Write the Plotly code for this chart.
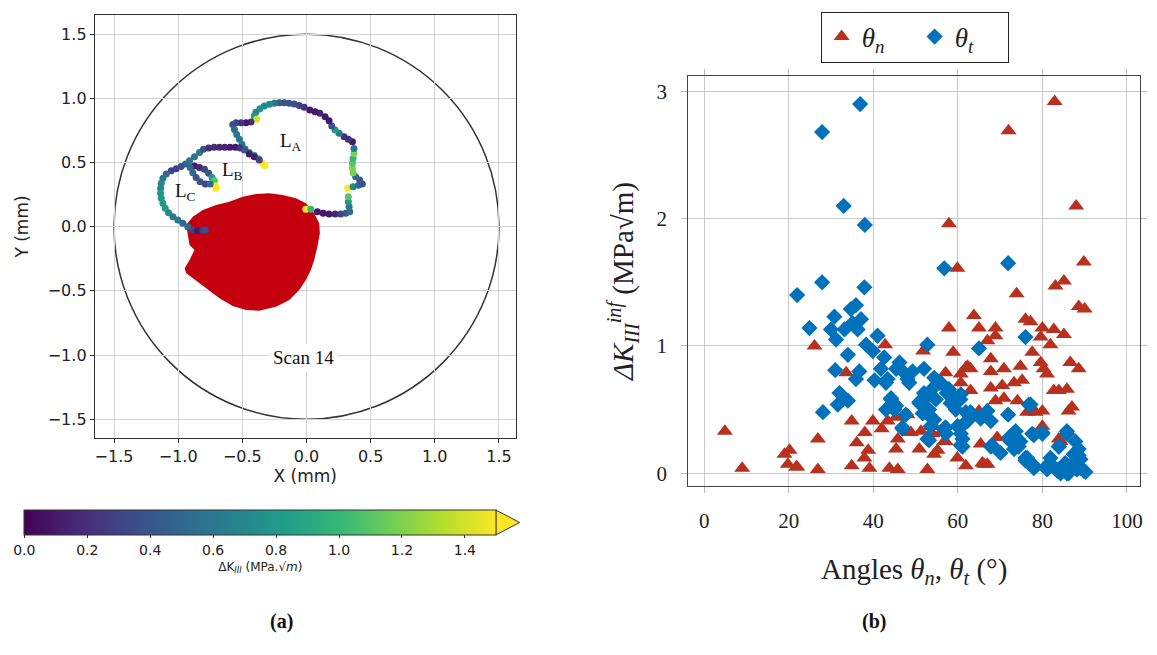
import plotly.graph_objects as go

# crack front, scan 14 (mm) and Delta K_III colour value
LA_X = [-0.005, 0.034, 0.085, 0.130, 0.176, 0.223, 0.267, 0.306, 0.337, 0.332, 0.326, 0.326, 0.321,
        0.363, 0.404, 0.435, 0.415, 0.383, 0.363, 0.358, 0.358, 0.363, 0.370, 0.370, 0.358, 0.326,
        0.293, 0.254, 0.223, 0.197, 0.176, 0.145, 0.104, 0.067, 0.026, -0.018, -0.057, -0.096,
        -0.135, -0.174, -0.212, -0.251, -0.290, -0.329, -0.363, -0.394, -0.407, -0.389, -0.433,
        -0.472, -0.510, -0.549, -0.575, -0.562, -0.544, -0.523, -0.503, -0.479, -0.446, -0.407,
        -0.373, -0.342, -0.324]
LA_Y = [0.135, 0.135, 0.117, 0.104, 0.099, 0.099, 0.099, 0.104, 0.117, 0.156, 0.195, 0.234, 0.299,
        0.312, 0.322, 0.332, 0.364, 0.390, 0.421, 0.455, 0.494, 0.532, 0.571, 0.610, 0.662, 0.681,
        0.701, 0.727, 0.753, 0.784, 0.826, 0.857, 0.883, 0.896, 0.909, 0.930, 0.945, 0.956,
        0.961, 0.966, 0.966, 0.961, 0.953, 0.940, 0.919, 0.891, 0.862, 0.836, 0.816,
        0.810, 0.810, 0.810, 0.797, 0.758, 0.719, 0.681, 0.642, 0.605, 0.577, 0.556,
        0.530, 0.494, 0.475]
LA_K = [1.5, 1.0, 0.1, 0.1, 0.1, 0.15, 0.3, 0.4, 0.5, 0.6, 0.8, 1.1, 1.5,
        0.7, 0.5, 0.4, 0.4, 0.5, 1.2, 1.2, 1.1, 1.0, 1.2, 0.6, 0.1, 0.2,
        0.2, 0.6, 0.8, 0.4, 0.1, 0.1, 0.15, 0.1, 0.1, 0.2, 0.3, 0.35,
        0.4, 0.4, 0.4, 0.6, 0.7, 0.7, 0.8, 0.7, 0.8, 1.4, 0.2,
        0.1, 0.2, 0.3, 0.35, 0.5, 0.6, 0.6, 0.6, 0.6, 0.7, 0.9,
        1.0, 1.5, 1.5]

LB_X = [-0.943, -0.912, -0.873, -0.834, -0.803, -0.762, -0.720, -0.679, -0.637, -0.596, -0.554,
        -0.518, -0.484, -0.446, -0.407, -0.368,
        -0.873, -0.834, -0.795, -0.762, -0.736, -0.718, -0.710, -0.705,
        -0.907, -0.886, -0.860, -0.829, -0.788, -0.751]
LB_Y = [0.488, 0.514, 0.545, 0.577, 0.603, 0.613, 0.618, 0.618, 0.618, 0.618, 0.618,
        0.613, 0.597, 0.566, 0.545, 0.519,
        0.473, 0.462, 0.447, 0.416, 0.384, 0.358, 0.317, 0.299,
        0.462, 0.421, 0.384, 0.351, 0.332, 0.332]
LB_K = [0.5, 0.6, 0.6, 0.6, 0.4, 0.2, 0.2, 0.15, 0.15, 0.1, 0.1,
        0.2, 0.4, 0.1, 0.1, 0.3,
        0.1, 0.15, 0.3, 0.4, 0.8, 1.1, 1.5, 1.5,
        0.5, 0.5, 0.4, 0.4, 0.3, 0.5]

LC_X = [-0.977, -1.016, -1.054, -1.093, -1.119, -1.132, -1.137, -1.137, -1.132, -1.119, -1.101,
        -1.075, -1.041, -1.003, -0.964, -0.925, -0.886, -0.847, -0.808, -0.788]
LC_Y = [0.468, 0.452, 0.436, 0.410, 0.377, 0.338, 0.299, 0.260, 0.221, 0.182, 0.143,
        0.109, 0.078, 0.052, 0.026, 0.000, -0.026, -0.031, -0.029, -0.026]
LC_K = [0.4, 0.3, 0.3, 0.5, 0.6, 0.7, 0.7, 0.8, 0.8, 0.8, 0.8,
        0.7, 0.6, 0.6, 0.5, 0.5, 0.3, 0.1, 0.3, 0.35]

# initiation zone outline (mm)
ZONE_X = [-0.937, -0.886, -0.808, -0.704, -0.601, -0.497, -0.393, -0.290, -0.186, -0.082, -0.005,
          0.060, 0.099, 0.104, 0.085, 0.060, 0.034, -0.005, -0.057, -0.134, -0.238, -0.368,
          -0.471, -0.575, -0.678, -0.782, -0.859, -0.937, -0.950, -0.911, -0.873, -0.911, -0.925]
ZONE_Y = [0.013, 0.078, 0.130, 0.169, 0.195, 0.234, 0.255, 0.260, 0.247, 0.221, 0.182,
          0.104, 0.026, -0.051, -0.156, -0.259, -0.337, -0.415, -0.493, -0.571, -0.623, -0.654,
          -0.649, -0.618, -0.558, -0.480, -0.415, -0.363, -0.324, -0.259, -0.181, -0.143, -0.065]

SPECIMEN_RADIUS = 1.5

# Delta K_III^inf versus angles
THETA_N = [82.9, 72.0, 88.0, 57.9, 59.9, 89.8, 85.1, 83.1, 73.9, 88.6, 90.0,
           26.1, 42.8, 51.8, 33.6, 63.8, 57.9, 65.0, 68.9, 76.0, 77.2, 68.9, 67.0, 80.0, 82.7, 85.1,
           79.6, 81.9, 58.9, 67.8, 77.6, 79.6, 80.3, 81.1, 74.8, 61.9, 63.0, 60.7, 70.9, 67.8, 86.6,
           88.6, 57.1,
           67.8, 70.5, 73.3, 75.2, 63.0, 60.7, 68.9, 70.9, 74.1, 65.0, 76.4, 80.0, 82.7, 83.9, 85.8,
           86.2, 87.0, 80.0, 83.9, 69.3, 65.4, 55.2, 57.1, 59.9, 61.9, 65.8, 67.0, 56.0, 54.4, 78.4,
           54.0, 56.8, 66.2, 84.3, 62.3,
           4.9, 9.0, 19.0, 20.2, 21.8, 19.8, 22.0, 26.9, 26.9, 34.9, 39.9, 38.0, 42.0, 36.1, 38.8,
           37.9, 34.9, 39.1, 43.8, 45.8, 45.8, 45.4, 48.9, 51.3, 50.9, 52.8, 53.6, 54.4, 43.4, 45.4,
           48.1]
DK_N = [2.92, 2.69, 2.10, 1.96, 1.61, 1.66, 1.51, 1.47, 1.41, 1.31, 1.29,
        1.00, 1.01, 0.96, 0.79, 1.24, 1.14, 1.14, 1.14, 1.21, 1.19, 1.08, 1.04, 1.14, 1.13, 1.09,
        1.07, 1.01, 0.95, 0.90, 0.95, 0.87, 0.82, 0.78, 0.84, 0.83, 0.82, 0.78, 0.82, 0.80, 0.87,
        0.82, 0.79,
        0.67, 0.69, 0.71, 0.73, 0.65, 0.71, 0.57, 0.59, 0.57, 0.49, 0.48, 0.49, 0.65, 0.65, 0.66,
        0.49, 0.52, 0.37, 0.27, 0.28, 0.23, 0.18, 0.25, 0.12, 0.06, 0.08, 0.07, 0.32, 0.37, 0.48,
        0.31, 0.25, 0.07, 0.25, 0.84,
        0.33, 0.04, 0.15, 0.18, 0.05, 0.07, 0.05, 0.27, 0.03, 0.41, 0.41, 0.32, 0.35, 0.24, 0.18,
        0.12, 0.06, 0.04, 0.04, 0.03, 0.27, 0.19, 0.32, 0.33, 0.19, 0.03, 0.37, 0.15, 0.41, 0.44,
        0.46]

THETA_T = [36.9, 27.9, 33.0, 38.0, 56.8, 71.9,
           22.0, 27.9, 37.9, 24.9, 30.8, 30.0, 31.2, 33.2, 34.7, 35.9, 35.1, 37.1, 36.3, 34.0, 31.0,
           36.7, 38.3, 41.0, 39.9, 42.6, 41.8, 43.4, 46.2, 45.4, 47.3, 49.3, 52.0, 52.8, 48.1, 54.4,
           65.0, 76.0,
           32.0, 34.0, 31.6, 28.1, 35.9, 40.3, 43.0, 44.2, 43.0, 45.4, 47.7, 46.9, 48.5, 52.0, 50.9,
           53.2, 53.6, 52.8,
           55.6, 57.9, 60.7, 54.8, 59.5, 61.9, 63.0, 57.1, 60.3, 61.1, 61.1, 62.3, 65.8, 67.0, 67.8,
           71.9, 76.8, 67.8, 70.1, 72.1, 73.7, 74.8, 73.3, 76.0, 78.0, 77.6, 80.0, 85.8, 83.9, 87.8,
           81.9, 81.1, 83.5, 85.8, 87.8, 89.0, 89.8, 87.4, 88.6, 85.4,
           57.4, 59.1, 60.6, 56.0, 53.6, 52.0, 54.4, 56.8, 60.7, 60.7, 63.1, 65.4, 68.1, 72.5, 74.4,
           76.0, 78.0, 78.0, 81.1, 84.3, 86.2, 87.8, 88.6, 89.0, 90.2, 88.2, 85.1, 82.7, 46.9, 53.6,
           53.2, 57.2, 58.3, 59.9, 61.5, 72.5, 76.4, 44.2, 45.0, 50.9, 51.7, 77.2, 80.0, 83.9, 85.8]
DK_T = [2.90, 2.68, 2.10, 1.95, 1.61, 1.65,
        1.40, 1.50, 1.46, 1.14, 1.23, 1.13, 1.05, 1.13, 1.29, 1.32, 1.18, 1.21, 1.13, 0.93, 0.81,
        0.80, 1.01, 1.08, 0.96, 0.91, 0.82, 0.74, 0.87, 0.82, 0.79, 0.80, 0.82, 1.01, 0.74, 0.75,
        0.98, 1.07,
        0.63, 0.57, 0.54, 0.48, 0.74, 0.73, 0.71, 0.59, 0.50, 0.53, 0.46, 0.36, 0.71, 0.63, 0.56,
        0.50, 0.44, 0.27,
        0.71, 0.66, 0.62, 0.58, 0.50, 0.48, 0.48, 0.36, 0.36, 0.27, 0.21, 0.41, 0.45, 0.49, 0.41,
        0.46, 0.54, 0.21, 0.16, 0.28, 0.33, 0.25, 0.19, 0.12, 0.06, 0.31, 0.32, 0.33, 0.21, 0.25,
        0.12, 0.06, 0.02, 0.00, 0.04, 0.11, 0.02, 0.15, 0.19, 0.08,
        0.63, 0.60, 0.58, 0.71, 0.65, 0.58, 0.42, 0.35, 0.31, 0.22, 0.46, 0.43, 0.22, 0.29, 0.21,
        0.10, 0.30, 0.04, 0.03, 0.00, 0.00, 0.10, 0.14, 0.04, 0.01, 0.03, 0.04, 0.05, 0.35, 0.37,
        0.26, 0.31, 0.55, 0.37, 0.39, 0.25, 0.12, 0.58, 0.50, 0.55, 0.47, 0.54, 0.31, 0.21, 0.31]

# the page body adds an 8px margin; the figure is sized to fit inside the window
OFF = 8
W, H = 1157 - OFF, 655 - OFF


def px(x):
    return (x - OFF) / W


def py(y):
    return 1 - (y - OFF) / H


SANS = "DejaVu Sans"
SERIF = "Liberation Serif"
RED = "#b8311f"
BLUE = "#0071bb"

fig = go.Figure()

# ---- (a) crack front map
fig.add_trace(go.Scatter(x=ZONE_X, y=ZONE_Y, fill="toself", mode="lines",
                         line=dict(width=0, color="#c4000e"), fillcolor="#c4000e",
                         hoverinfo="skip", showlegend=False, xaxis="x", yaxis="y"))

cbar = dict(orientation="h", lenmode="pixels", len=472, thickness=25,
            x=px(261), xanchor="center", y=py(510), yanchor="top", xpad=0, ypad=0,
            tickvals=[0, 0.2, 0.4, 0.6, 0.8, 1.0, 1.2, 1.4], tickformat=".1f",
            ticks="outside", ticklen=3, tickcolor="#333",
            tickfont=dict(family=SANS, size=14, color="#222"),
            outlinewidth=1, outlinecolor="#333",
            title=dict(text="ΔK<sub><i>III</i></sub> (MPa.√<i>m</i>)", side="bottom",
                       font=dict(family=SANS, size=12, color="#222")))

first = True
for xs, ys, ks in [(LA_X, LA_Y, LA_K), (LB_X, LB_Y, LB_K), (LC_X, LC_Y, LC_K)]:
    fig.add_trace(go.Scatter(
        x=xs, y=ys, mode="markers", showlegend=False, xaxis="x", yaxis="y",
        marker=dict(size=7, color=ks, colorscale="Viridis", cmin=0, cmax=1.5,
                    showscale=first, colorbar=cbar if first else None, line=dict(width=0))))
    first = False

# ---- (b) scatter
fig.add_trace(go.Scatter(x=THETA_N, y=DK_N, mode="markers", name="<i>θ</i><sub><i>n</i></sub>",
                         marker=dict(symbol="triangle-up", size=14, color=RED, line=dict(width=0)),
                         xaxis="x2", yaxis="y2"))
fig.add_trace(go.Scatter(x=THETA_T, y=DK_T, mode="markers", name="<i>θ</i><sub><i>t</i></sub>",
                         marker=dict(symbol="diamond", size=12.5, color=BLUE, line=dict(width=0)),
                         xaxis="x2", yaxis="y2"))

grid_a = "#d4d4d4"
fig.update_layout(
    width=W, height=H, margin=dict(l=0, r=0, t=0, b=0),
    paper_bgcolor="white", plot_bgcolor="white",
    xaxis=dict(domain=[px(95), px(517)], range=[-1.65, 1.63],
               tickvals=[-1.5, -1.0, -0.5, 0, 0.5, 1.0, 1.5], tickformat=".1f",
               showgrid=True, gridcolor=grid_a, zeroline=False,
               showline=True, mirror=True, linecolor="#333", linewidth=1,
               ticks="outside", ticklen=4, tickcolor="#333",
               tickfont=dict(family=SANS, size=16, color="#222"),
               title=dict(text="X (mm)", standoff=4, font=dict(family=SANS, size=17, color="#222"))),
    yaxis=dict(domain=[py(438), py(15)], range=[-1.646, 1.649],
               tickvals=[-1.5, -1.0, -0.5, 0, 0.5, 1.0, 1.5], tickformat=".1f",
               showgrid=True, gridcolor=grid_a, zeroline=False,
               showline=True, mirror=True, linecolor="#333", linewidth=1,
               ticks="outside", ticklen=4, tickcolor="#333",
               tickfont=dict(family=SANS, size=16, color="#222"),
               title=dict(text="Y (mm)", standoff=14, font=dict(family=SANS, size=17, color="#222"))),
    xaxis2=dict(domain=[px(690), px(1143)], range=[-3.77, 103.1],
                tickvals=[0, 20, 40, 60, 80, 100],
                showgrid=True, gridcolor="#c9c9c9", zeroline=False,
                showline=True, mirror="allticks", linecolor="#444", linewidth=1,
                ticks="outside", ticklen=6, tickcolor="#bbbbbb", ticklabelstandoff=10,
                tickfont=dict(family=SERIF, size=21, color="#222"),
                title=dict(text="Angles <i>θ</i><sub><i>n</i></sub>, <i>θ</i><sub><i>t</i></sub> (°)",
                           standoff=26, font=dict(family=SERIF, size=29, color="#222")),
                anchor="y2"),
    yaxis2=dict(domain=[py(486), py(76)], range=[-0.10, 3.12],
                tickvals=[0, 1, 2, 3],
                showgrid=True, gridcolor="#c9c9c9", zeroline=False,
                showline=True, mirror="allticks", linecolor="#444", linewidth=1,
                ticks="outside", ticklen=6, tickcolor="#bbbbbb", ticklabelstandoff=10,
                tickfont=dict(family=SERIF, size=21, color="#222"),
                title=dict(text="<i>ΔK</i><sub><i>III</i></sub><sup><i>inf</i></sup> (MPa√m)",
                           standoff=14, font=dict(family=SERIF, size=29, color="#222")),
                anchor="x2"),
    legend=dict(orientation="h", x=px(917), xanchor="center", y=py(37), yanchor="middle",
                bordercolor="#222", borderwidth=1, bgcolor="white",
                font=dict(family=SERIF, size=27, color="#222"),
                entrywidth=48, entrywidthmode="pixels", tracegroupgap=0),
    showlegend=True,
)

fig.add_shape(type="circle", xref="x", yref="y", x0=-SPECIMEN_RADIUS, y0=-SPECIMEN_RADIUS,
              x1=SPECIMEN_RADIUS, y1=SPECIMEN_RADIUS, line=dict(color="#333", width=1.5),
              layer="below")

# colourbar "extend max" arrow
bar_end = px(261 + 472 / 2)
tip = px(261 + 472 / 2 + 24)
y_top = py(510)
y_bot = py(535)
fig.add_shape(type="path", xref="paper", yref="paper",
              path=f"M {bar_end},{y_top} L {tip},{(y_top + y_bot) / 2} L {bar_end},{y_bot} Z",
              fillcolor="#fde725", line=dict(color="#333", width=1))

labels = [("L<sub>A</sub>", -0.12, 0.66), ("L<sub>B</sub>", -0.58, 0.43), ("L<sub>C</sub>", -0.94, 0.27)]
for txt, lx, ly in labels:
    fig.add_annotation(x=lx, y=ly, xref="x", yref="y", text=txt, showarrow=False,
                       font=dict(family=SERIF, size=19, color="#111"))
fig.add_annotation(x=-0.02, y=-1.02, xref="x", yref="y", text="Scan 14", showarrow=False,
                   bgcolor="white", borderpad=3, font=dict(family=SERIF, size=19, color="#111"))

fig.add_annotation(x=px(269), y=py(635), xref="paper", yref="paper", text="<b>(a)</b>",
                   showarrow=False, font=dict(family=SERIF, size=20, color="#111"))
fig.add_annotation(x=px(890), y=py(635), xref="paper", yref="paper", text="<b>(b)</b>",
                   showarrow=False, font=dict(family=SERIF, size=20, color="#111"))

fig.write_html("out.html")
